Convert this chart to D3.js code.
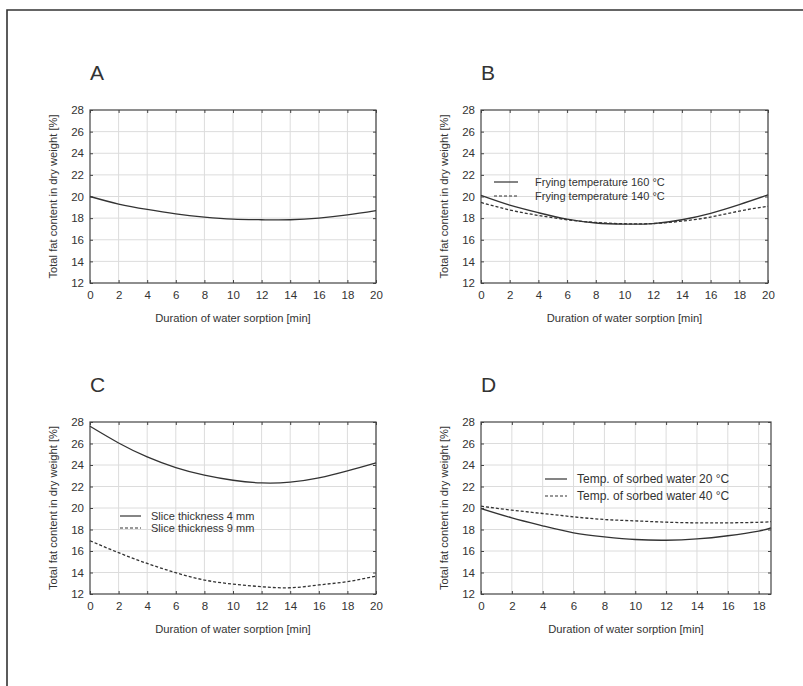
<!DOCTYPE html>
<html lang="en">
<head>
    <meta charset="UTF-8">
    <title>Total fat content vs duration of water sorption</title>
    <script src="https://d3js.org/d3.v7.min.js"></script>
    <style>
        body {
            margin: 0;
            background: #fff;
        }
        svg text {
            font-family: "Liberation Sans", Arial, sans-serif;
            fill: #333;
        }
    </style>
</head>
<body>

<div id="chart"></div>

<script>
    // values
    const xTicks = [0, 2, 4, 6, 8, 10, 12, 14, 16, 18, 20];
    const yTicks = [12, 14, 16, 18, 20, 22, 24, 26, 28];

    const timeFull = [0, 2, 4, 6, 8, 10, 12, 14, 16, 18, 20];
    const timeD = [0, 2, 4, 6, 8, 10, 12, 14, 16, 18, 18.8];

    const fatA = [20.0, 19.3, 18.8, 18.4, 18.1, 17.9, 17.85, 17.85, 18.0, 18.3, 18.7];

    const fatB160 = [20.1, 19.2, 18.5, 17.9, 17.55, 17.45, 17.5, 17.85, 18.45, 19.25, 20.15];
    const fatB140 = [19.45, 18.75, 18.25, 17.85, 17.6, 17.48, 17.5, 17.72, 18.1, 18.65, 19.1];

    const fatC4 = [27.6, 26.05, 24.75, 23.76, 23.05, 22.58, 22.33, 22.4, 22.8, 23.45, 24.2];
    const fatC9 = [16.95, 15.84, 14.84, 13.98, 13.3, 12.92, 12.68, 12.58, 12.84, 13.15, 13.67];

    const fatD20 = [19.95, 19.08, 18.34, 17.69, 17.32, 17.07, 17.0, 17.12, 17.42, 17.85, 18.15];
    const fatD40 = [20.17, 19.8, 19.49, 19.18, 18.93, 18.8, 18.68, 18.62, 18.62, 18.67, 18.73];

    const width = 803, height = 686;

    const svg = d3.select("#chart").append("svg")
        .attr("width", width)
        .attr("height", height);

    // outer frame (only top and left edges show)
    svg.append("path")
        .attr("d", `M7,${height} L7,10 L${width},10`)
        .attr("fill", "none")
        .attr("stroke", "#333")
        .attr("stroke-width", 1.6);

    const panels = [
        {letter: "A", left: 90, right: 376, top: 110, bottom: 283, xMax: 20,
         series: [{x: timeFull, y: fatA, dash: null}],
         legend: null},
        {letter: "B", left: 481, right: 768, top: 110, bottom: 283, xMax: 20,
         series: [{x: timeFull, y: fatB160, dash: null}, {x: timeFull, y: fatB140, dash: "3,2"}],
         legend: {x0: 494, x1: 518, tx: 535, ys: [182, 196], size: 11,
                  labels: ["Frying temperature 160 °C", "Frying temperature 140 °C"]}},
        {letter: "C", left: 90, right: 376, top: 422, bottom: 594, xMax: 20,
         series: [{x: timeFull, y: fatC4, dash: null}, {x: timeFull, y: fatC9, dash: "3,2"}],
         legend: {x0: 120, x1: 141, tx: 151, ys: [516, 528], size: 11,
                  labels: ["Slice thickness 4 mm", "Slice thickness 9 mm"]}},
        {letter: "D", left: 481, right: 771, top: 422, bottom: 594, xMax: 18.8,
         series: [{x: timeD, y: fatD20, dash: null}, {x: timeD, y: fatD40, dash: "3,2"}],
         legend: {x0: 545, x1: 567, tx: 577, ys: [479, 496], size: 12,
                  labels: ["Temp. of sorbed water 20 °C", "Temp. of sorbed water 40 °C"]}}
    ];

    panels.forEach(p => {
        const x = d3.scaleLinear().domain([0, p.xMax]).range([p.left, p.right]);
        const y = d3.scaleLinear().domain([12, 28]).range([p.bottom, p.top]);
        const ticksX = xTicks.filter(t => t <= p.xMax);
        const g = svg.append("g");

        // grid
        g.selectAll(".gx").data(ticksX.filter(t => t > 0)).join("line")
            .attr("x1", d => x(d)).attr("x2", d => x(d))
            .attr("y1", p.top).attr("y2", p.bottom)
            .attr("stroke", "#dcdcdc");
        g.selectAll(".gy").data(yTicks.slice(1, -1)).join("line")
            .attr("x1", p.left).attr("x2", p.right)
            .attr("y1", d => y(d)).attr("y2", d => y(d))
            .attr("stroke", "#dcdcdc");

        // axes with inward ticks on all sides
        g.append("g").attr("transform", `translate(0,${p.bottom})`)
            .call(d3.axisBottom(x).tickValues(ticksX).tickSize(-3).tickPadding(8).tickSizeOuter(0));
        g.append("g").attr("transform", `translate(0,${p.top})`)
            .call(d3.axisTop(x).tickValues(ticksX).tickSize(-3).tickFormat("").tickSizeOuter(0));
        g.append("g").attr("transform", `translate(${p.left},0)`)
            .call(d3.axisLeft(y).tickValues(yTicks).tickSize(-3).tickPadding(6).tickSizeOuter(0));
        g.append("g").attr("transform", `translate(${p.right},0)`)
            .call(d3.axisRight(y).tickValues(yTicks).tickSize(-3).tickFormat("").tickSizeOuter(0));

        g.selectAll(".domain").remove();
        g.selectAll(".tick line").attr("stroke", "#444");
        g.selectAll(".tick text")
            .attr("font-size", 11.5)
            .attr("font-family", "Liberation Sans, Arial, sans-serif")
            .attr("fill", "#333");

        g.append("rect")
            .attr("x", p.left).attr("y", p.top)
            .attr("width", p.right - p.left).attr("height", p.bottom - p.top)
            .attr("fill", "none").attr("stroke", "#444").attr("stroke-width", 1.2);

        // curves
        const line = d3.line()
            .x(d => x(d[0])).y(d => y(d[1]))
            .curve(d3.curveNatural);
        p.series.forEach(s => {
            g.append("path")
                .datum(d3.zip(s.x, s.y))
                .attr("d", line)
                .attr("fill", "none")
                .attr("stroke", "#333")
                .attr("stroke-width", 1.3)
                .attr("stroke-dasharray", s.dash);
        });

        // legend
        if (p.legend) {
            const L = p.legend;
            L.labels.forEach((lab, i) => {
                g.append("line")
                    .attr("x1", L.x0).attr("x2", L.x1)
                    .attr("y1", L.ys[i]).attr("y2", L.ys[i])
                    .attr("stroke", "#333").attr("stroke-width", 1.2)
                    .attr("stroke-dasharray", i === 1 ? "3,2" : null);
                g.append("text")
                    .attr("x", L.tx).attr("y", L.ys[i])
                    .attr("dy", "0.35em")
                    .attr("font-size", L.size)
                    .text(lab);
            });
        }

        // titles
        g.append("text")
            .attr("x", (p.left + p.right) / 2)
            .attr("y", p.bottom + 35)
            .attr("text-anchor", "middle")
            .attr("dy", "0.35em")
            .attr("font-size", 11.2)
            .text("Duration of water sorption [min]");

        g.append("text")
            .attr("transform", `translate(${p.left - 37},${(p.top + p.bottom) / 2}) rotate(-90)`)
            .attr("text-anchor", "middle")
            .attr("dy", "0.35em")
            .attr("font-size", 11.2)
            .text("Total fat content in dry weight [%]");

        g.append("text")
            .attr("x", p.left)
            .attr("y", p.top - 37)
            .attr("dy", "0.35em")
            .attr("font-size", 21)
            .text(p.letter);
    });
</script>

</body>
</html>
